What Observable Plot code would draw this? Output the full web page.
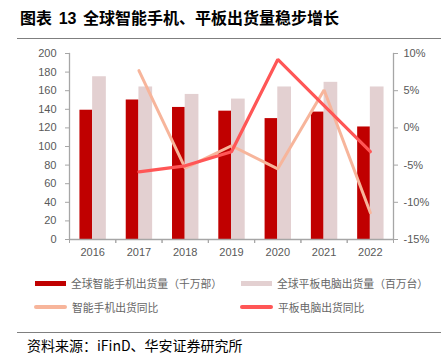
<!DOCTYPE html>
<html>
<head>
<meta charset="utf-8">
<script src="https://cdn.jsdelivr.net/npm/d3@7"></script>
<script src="https://cdn.jsdelivr.net/npm/@observablehq/plot@0.6"></script>
<style>
  html, body { margin: 0; padding: 0; background: #fff; }
  #wrap { position: relative; width: 441px; height: 356px; overflow: hidden; background: #fff; }
  .title { position: absolute; left: 20px; top: 6px; font-family: "Noto Sans CJK SC", sans-serif; font-weight: 700; font-size: 16px; line-height: 22px; color: #000; white-space: nowrap; word-spacing: 3px; }
  .title .num { font-family: "Liberation Sans", Arial, sans-serif; font-weight: 700; }
  .hr1 { position: absolute; left: 17px; right: 0; top: 38px; height: 0; border-top: 1.5px solid #7f7f7f; }
  .hr2 { position: absolute; left: 17px; right: 0; top: 332px; height: 0; border-top: 1.5px solid #7f7f7f; }
  #chart { position: absolute; left: 0; top: 40px; }
  .lg { position: absolute; font-family: "Noto Sans CJK SC", sans-serif; font-size: 10.8px; line-height: 14px; color: #666; white-space: nowrap; }
  .sw { position: absolute; }
  .src { position: absolute; left: 27px; top: 336px; font-family: "Noto Sans CJK SC", sans-serif; font-size: 14px; line-height: 18px; color: #000; white-space: nowrap; }
</style>
</head>
<body>
<div id="wrap">
  <div class="title">图表 <span class="num">13</span> 全球智能手机、平板出货量稳步增长</div>
  <div class="hr1"></div>
  <div id="chart"></div>
  <div id="legend"></div>
  <div class="hr2"></div>
  <div class="src">资料来源：iFinD、华安证券研究所</div>
</div>
<script>
const years = ["2016", "2017", "2018", "2019", "2020", "2021", "2022"];
const phoneShip = [139, 150, 142, 138, 130, 137, 121];   // 千万部
const tabletShip = [175, 164, 156, 151, 164, 169, 164];  // 百万台
const yoyYears = ["2017", "2018", "2019", "2020", "2021", "2022"];
const phoneYoY = [7.7, -5.4, -2.4, -5.5, 5.1, -11.4];   // %
const tabletYoY = [-5.9, -5.1, -3.2, 9.2, 3.0, -3.2];   // %
const leftTicks = [0, 20, 40, 60, 80, 100, 120, 140, 160, 180, 200];
const rightTicks = [-15, -10, -5, 0, 5, 10];
const seriesNames = ["全球智能手机出货量（千万部）", "全球平板电脑出货量（百万台）", "智能手机出货同比", "平板电脑出货同比"];

const colors = { phone: "#C00000", tablet: "#E3D0D1", phoneYoY: "#F7B59B", tabletYoY: "#FF5656" };
const axisGrey = "#A6A6A6";
const textGrey = "#595959";

// map percentage (-15..10) onto the left scale (0..200)
const pctToLeft = p => (p + 15) * 8;

const barRows = years.map((y, i) => ({ year: y, phone: phoneShip[i], tablet: tabletShip[i] }));
const phoneLine = yoyYears.map((y, i) => ({ year: y, v: pctToLeft(phoneYoY[i]) }));
const tabletLine = yoyYears.map((y, i) => ({ year: y, v: pctToLeft(tabletYoY[i]) }));

const W = 441, H = 225, mL = 69, mR = 48, mT = 13, mB = 26;
const step = (W - mL - mR) / years.length;
const half = step / 2;

const chart = Plot.plot({
  width: W, height: H,
  marginTop: mT, marginBottom: mB, marginLeft: mL, marginRight: mR,
  x: { domain: years, padding: 0, round: false, axis: null },
  y: { domain: [0, 200], axis: null },
  style: { fontFamily: "'Liberation Sans', Arial, sans-serif", fontSize: "11px", color: textGrey, background: "transparent", overflow: "visible" },
  marks: [
    Plot.barY(barRows, { x: "year", y: "phone", fill: colors.phone, insetLeft: half - 12.7, insetRight: half }),
    Plot.barY(barRows, { x: "year", y: "tablet", fill: colors.tablet, insetLeft: half, insetRight: half - 13.7 }),
    Plot.line(phoneLine, { x: "year", y: "v", stroke: colors.phoneYoY, strokeWidth: 3, strokeLinejoin: "miter" }),
    Plot.line(tabletLine, { x: "year", y: "v", stroke: colors.tabletYoY, strokeWidth: 3.2, strokeLinejoin: "miter" }),
    Plot.ruleY([0], { stroke: axisGrey, strokeWidth: 1.3 }),
    Plot.frame({ anchor: "left", stroke: axisGrey, strokeWidth: 1.3 }),
    Plot.frame({ anchor: "right", stroke: axisGrey, strokeWidth: 1.3 }),
    Plot.axisY({ ticks: leftTicks, anchor: "left", label: null, tickSize: 4, tickPadding: 9, stroke: axisGrey, fill: textGrey }),
    Plot.axisY({ ticks: rightTicks.map(pctToLeft), anchor: "right", label: null, tickSize: 4, tickPadding: 6, stroke: axisGrey, fill: textGrey, tickFormat: v => (v / 8 - 15) + "%" }),
    Plot.axisX({ tickSize: 4, dx: -half, label: null, tickFormat: () => "", stroke: axisGrey }),
    Plot.axisX({ tickSize: 4, dx: half, label: null, tickFormat: () => "", stroke: axisGrey }),
    Plot.axisX({ tickSize: 0, tickPadding: 9, label: null, fill: textGrey })
  ]
});
document.getElementById("chart").appendChild(chart);

// legend
const legend = document.getElementById("legend");
const items = [
  { name: seriesNames[0], color: colors.phone, x: 35, y: 283, w: 31, h: 5, round: false },
  { name: seriesNames[1], color: colors.tablet, x: 241, y: 283, w: 31, h: 5, round: false },
  { name: seriesNames[2], color: colors.phoneYoY, x: 34, y: 307, w: 33, h: 4, round: true },
  { name: seriesNames[3], color: colors.tabletYoY, x: 240, y: 307, w: 33, h: 4, round: true }
];
items.forEach(it => {
  const sw = document.createElement("div");
  sw.className = "sw";
  sw.style.left = it.x + "px";
  sw.style.top = (it.y - it.h / 2) + "px";
  sw.style.width = it.w + "px";
  sw.style.height = it.h + "px";
  sw.style.background = it.color;
  if (it.round) sw.style.borderRadius = (it.h / 2) + "px";
  legend.appendChild(sw);
  const t = document.createElement("div");
  t.className = "lg";
  t.style.left = (it.x + it.w + 5) + "px";
  t.style.top = (it.y - 7.5) + "px";
  t.textContent = it.name;
  legend.appendChild(t);
});
</script>
</body>
</html>
